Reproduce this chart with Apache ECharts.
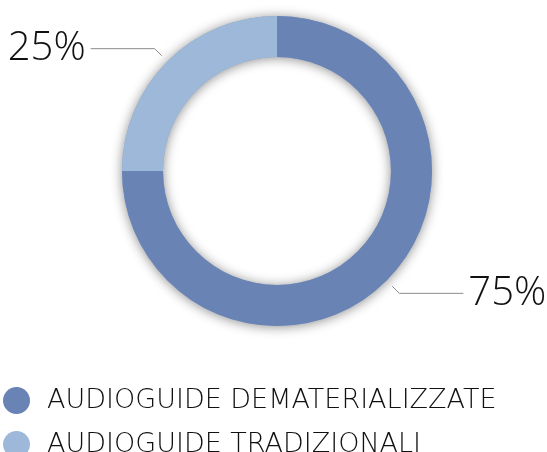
<!DOCTYPE html>
<html>
<head>
<meta charset="utf-8">
<script src="https://cdn.jsdelivr.net/npm/echarts@6/dist/echarts.min.js"></script>
<style>
  html, body { margin: 0; padding: 0; background: #ffffff; }
  #chart { width: 547px; height: 452px; }
</style>
</head>
<body>
<div id="chart"></div>
<script>
// Audioguide split
const categories = ['AUDIOGUIDE DEMATERIALIZZATE', 'AUDIOGUIDE TRADIZIONALI'];
const shares = [75, 25];
const colors = ['#6983b5', '#9db8d8'];

const LABEL_FONT = '"Open Sans"';
const LEGEND_FONT = '"DejaVu Sans"';
const center = [277, 171];

const data = categories.map((name, i) => ({
  name,
  value: shares[i],
  itemStyle: { color: colors[i] }
}));

const chart = echarts.init(document.getElementById('chart'), null, { renderer: 'canvas' });

chart.setOption({
  animation: false,
  backgroundColor: '#ffffff',
  legend: {
    orient: 'vertical',
    left: 3,
    top: 387,
    height: 120,
    padding: 0,
    icon: 'circle',
    itemWidth: 27,
    itemHeight: 27,
    itemGap: 17,
    selectedMode: false,
    data: categories,
    textStyle: {
      fontFamily: LEGEND_FONT,
      fontWeight: 200,
      fontSize: 27,
      color: '#111111',
      padding: [0, 0, 0, 12]
    }
  },
  series: [
    {
      // soft shadow beneath the ring
      type: 'pie',
      silent: true,
      center,
      radius: [114, 155],
      label: { show: false },
      labelLine: { show: false },
      data: [{ value: 1, name: '_shadow', itemStyle: {
        color: '#8aa0c8',
        shadowBlur: 12,
        shadowColor: 'rgba(0,0,0,0.45)',
        shadowOffsetX: 0,
        shadowOffsetY: 1
      } }]
    },
    {
      type: 'pie',
      center,
      radius: [114, 155],
      startAngle: 90,
      clockwise: true,
      silent: true,
      label: { show: false },
      labelLine: { show: false },
      data
    },
    {
      // label carrier: transparent ring slightly larger so leader lines stand off the ring
      type: 'pie',
      center,
      radius: [162, 163],
      startAngle: 90,
      clockwise: true,
      silent: true,
      itemStyle: { color: 'rgba(0,0,0,0)' },
      label: {
        show: true,
        formatter: '{d}%',
        fontFamily: LABEL_FONT,
        fontWeight: 300,
        fontSize: 40,
        color: '#111111',
        overflow: 'none',
        distanceToLabelLine: 5
      },
      labelLine: {
        show: true,
        length: 10,
        length2: 64,
        lineStyle: { color: '#8c8c8c', width: 1 }
      },
      data: categories.map((name, i) => ({ name: name, value: shares[i] }))
    }
  ]
});
</script>
</body>
</html>
